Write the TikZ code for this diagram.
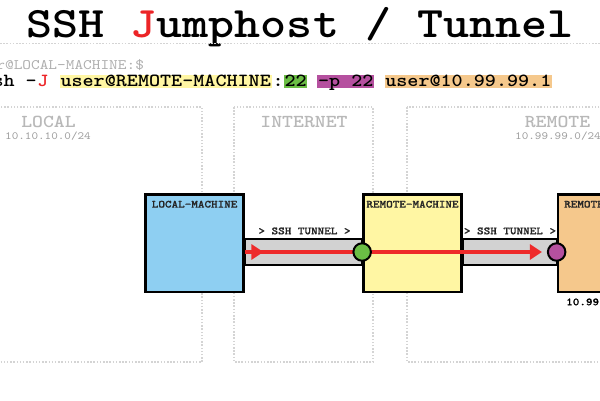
\documentclass[tikz,border=0pt]{standalone}
\usepackage{fontspec}
\usetikzlibrary{arrows.meta,decorations.markings}
\newfontfamily\mono{lmmono10-regular.otf}[BoldFont=lmmonolt10-bold.otf, FakeStretch=1.14]
\newfontfamily\monosmall{lmmonolt10-bold.otf}[FakeStretch=1.14, FakeBold=0.8]
\definecolor{zonegray}{HTML}{D4D4D4}
\definecolor{zonetext}{HTML}{B8B8B8}
\definecolor{prompttext}{HTML}{AEAEAE}
\definecolor{labelgray}{HTML}{262626}
\definecolor{jred}{HTML}{EC2427}
\definecolor{lineRed}{HTML}{EE2A2A}
\definecolor{boxblue}{HTML}{8ECFF2}
\definecolor{boxyellow}{HTML}{FFF6A3}
\definecolor{boxorange}{HTML}{F5C88C}
\definecolor{portgreen}{HTML}{6BBE45}
\definecolor{portpurple}{HTML}{B5509F}
\definecolor{tunnelgray}{HTML}{D2D2D2}
\pgfdeclarelayer{zones}
\pgfdeclarelayer{boxes}
\pgfdeclarelayer{wires}
\pgfsetlayers{zones,boxes,wires,main}
\begin{document}
\begin{tikzpicture}[x=1pt,y=-1pt,
  zone/.style={draw=zonegray, line width=1.5pt, dash pattern=on 1.5pt off 1.7pt},
  machine/.style={draw=black, line width=2.5pt, minimum width=98.2pt, minimum height=97.5pt, inner sep=0pt},
  boxlabel/.style={font=\monosmall\fontsize{11}{13}\selectfont, text=labelgray, inner sep=0pt, anchor=base},
  tunnelbox/.style={draw=black, fill=tunnelgray, line width=2pt},
  redline/.style={draw=lineRed, line width=4pt},
  port/.style={circle, draw=black, line width=2pt, minimum size=17.5pt, inner sep=0pt},
  zonelabel/.style={font=\mono\bfseries\fontsize{18.2}{20}\selectfont, text=zonetext, inner sep=0pt, anchor=base},
  subnet/.style={font=\mono\fontsize{11}{13}\selectfont, text=zonetext!85!black, inner sep=0pt, anchor=base},
  cmd/.style={font=\mono\bfseries\fontsize{18.5}{20}\selectfont, inner sep=0pt, anchor=base west},
  hl/.style={cmd, inner xsep=0.8pt, text height=11pt, text depth=2.3pt}
]
\useasboundingbox (0,0) rectangle (600,400);

% title
\node[font=\mono\bfseries\fontsize{43.5}{46}\selectfont, inner sep=0pt, anchor=base] (title) at (300,37.3) {SSH {\color{jred}J}umphost / Tunnel};
\coordinate (sepL) at (0,43.5);
\coordinate (sepR) at (600,43.5);
\draw[zone] (sepL) -- (sepR);

% command line
\node[font=\mono\fontsize{14.5}{16}\selectfont, text=prompttext, inner sep=0pt, anchor=base west] (prompt) at (-3.8,69.3) {r@LOCAL-MACHINE:\$};
\node[cmd] (c1) at (-7.7,86) {sh -};
\node[cmd, text=jred] (c2) at (37.1,86) {J};
\node[hl, fill=boxyellow] (c3) at (59.5,86) {user@REMOTE-MACHINE};
\node[cmd] (c4) at (272.3,86) {:};
\node[hl, fill=portgreen] (c5) at (283.5,86) {22};
\node[hl, fill=portpurple] (c6) at (317.1,86) {-p 22};
\node[hl, fill=boxorange] (c7) at (384.3,86) {user@10.99.99.1};

% zones
\begin{pgfonlayer}{zones}
\draw[zone] (-106,107) rectangle (202,362);
\draw[zone] (234,107) rectangle (373,362);
\draw[zone] (407,107) rectangle (709,362);
\end{pgfonlayer}
\node[zonelabel] (zl) at (48.5,127.3) {LOCAL};
\node[subnet] (zls) at (48,139.6) {10.10.10.0/24};
\node[zonelabel] (zi) at (304,127.3) {INTERNET};
\node[zonelabel] (zr) at (557.5,127.3) {REMOTE};
\node[subnet] (zrs) at (558,139.6) {10.99.99.0/24};

% machines
\begin{pgfonlayer}{boxes}
\node[machine, fill=boxblue] (lm) at (194.6,243.3) {};
\node[machine, fill=boxyellow] (rm) at (412.5,243.3) {};
\node[machine, fill=boxorange] (rr) at (607,243.3) {};
\end{pgfonlayer}
\node[boxlabel] (lmt) at (194.6,207.6) {LOCAL-MACHINE};
\node[boxlabel] (rmt) at (412.5,207.6) {REMOTE-MACHINE};
\node[boxlabel, anchor=base west] (rrt) at (564,207.6) {REMOTE};
\node[boxlabel, anchor=base west, text=black] (rrip) at (566,305.3) {10.99};

% tunnels
\begin{pgfonlayer}{zones}
\draw[tunnelbox] (lm.east |- 0,238.7) rectangle (rm.west |- 0,264.7);
\draw[tunnelbox] (rm.east |- 0,238.7) rectangle (rr.west |- 0,264.7);
\end{pgfonlayer}
\node[boxlabel] (t1) at (304.5,234.3) {> SSH TUNNEL >};
\node[boxlabel] (t2) at (510,234.3) {> SSH TUNNEL >};

% ports and the red path
\coordinate (s1) at (lm.east |- 0,252);
\node[port, fill=portgreen] (g) at (rm.west |- 0,252) {};
\node[port, fill=portpurple] (p) at (rr.west |- 0,252) {};
\begin{pgfonlayer}{wires}
\draw[redline, decoration={markings, mark=at position 18.5pt with {\arrow{Triangle[length=12pt,width=15pt]}}}, postaction=decorate] (s1) -- (g.center);
\draw[redline, -{Triangle[length=12pt,width=15pt]}, shorten >=5pt] (g.center) -- (p.west);
\end{pgfonlayer}
\end{tikzpicture}
\end{document}
